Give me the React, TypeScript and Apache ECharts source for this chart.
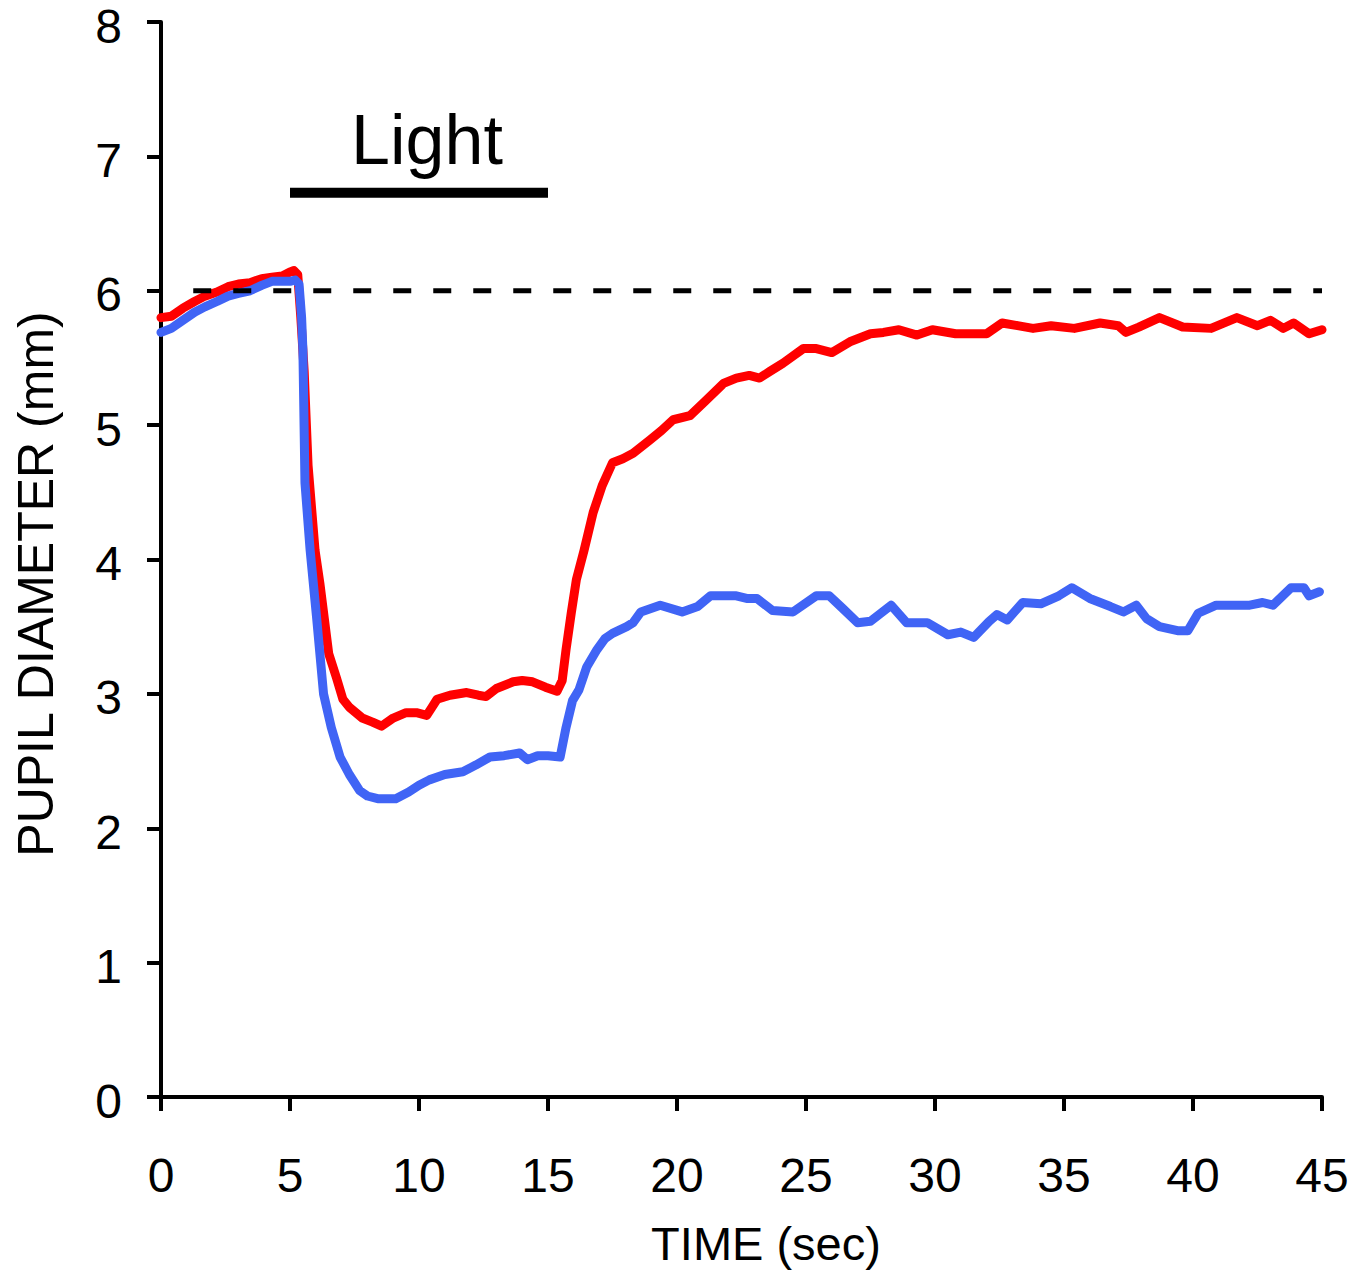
import React, { useEffect, useRef } from "react";
import * as echarts from "echarts";

// Red trace (time s, pupil diameter mm)
const redTime = [0, 0.4, 0.85, 1.3, 1.7, 2.17, 2.6, 3.0, 3.45, 3.9, 4.3, 4.7, 5.0, 5.15, 5.3, 5.42, 5.55, 5.7, 5.97, 6.16, 6.5, 6.8, 7.05, 7.3, 7.8, 8.2, 8.55, 9.0, 9.5, 9.9, 10.3, 10.5, 10.7, 11.2, 11.85, 12.3, 12.6, 13.0, 13.65, 14.0, 14.4, 14.9, 15.35, 15.55, 15.7, 15.9, 16.1, 16.4, 16.75, 17.1, 17.5, 17.9, 18.3, 18.95, 19.4, 19.85, 20.5, 21.1, 21.8, 22.3, 22.8, 23.2, 23.6, 24.1, 24.9, 25.4, 26.0, 26.7, 27.5, 28.0, 28.6, 29.3, 29.9, 30.8, 32.0, 32.6, 33.2, 33.8, 34.5, 35.4, 36.4, 37.1, 37.4, 37.9, 38.7, 39.6, 40.7, 41.7, 42.5, 43.0, 43.5, 43.9, 44.5, 45.0];
const redValues = [5.8, 5.81, 5.87, 5.92, 5.96, 5.99, 6.03, 6.05, 6.06, 6.09, 6.1, 6.11, 6.14, 6.15, 6.12, 5.8, 5.4, 4.7, 4.07, 3.82, 3.3, 3.12, 2.96, 2.9, 2.82, 2.79, 2.76, 2.82, 2.86, 2.86, 2.84, 2.9, 2.96, 2.99, 3.01, 2.99, 2.98, 3.04, 3.09, 3.1, 3.09, 3.05, 3.02, 3.1, 3.33, 3.6, 3.85, 4.07, 4.35, 4.55, 4.72, 4.75, 4.79, 4.89, 4.96, 5.04, 5.07, 5.18, 5.31, 5.35, 5.37, 5.35, 5.4, 5.46, 5.57, 5.57, 5.54, 5.62, 5.68, 5.69, 5.71, 5.67, 5.71, 5.68, 5.68, 5.76, 5.74, 5.72, 5.74, 5.72, 5.76, 5.74, 5.69, 5.73, 5.8, 5.73, 5.72, 5.8, 5.74, 5.78, 5.72, 5.76, 5.68, 5.71];

// Blue trace (time s, pupil diameter mm)
const blueTime = [0, 0.4, 0.85, 1.3, 1.7, 2.17, 2.6, 3.0, 3.45, 3.9, 4.3, 4.7, 5.0, 5.2, 5.35, 5.45, 5.5, 5.58, 5.78, 6.03, 6.3, 6.6, 6.94, 7.3, 7.7, 8.0, 8.4, 9.1, 9.6, 10.0, 10.4, 11.0, 11.7, 12.2, 12.75, 13.3, 13.9, 14.2, 14.6, 15.0, 15.47, 15.7, 15.95, 16.2, 16.5, 16.9, 17.2, 17.5, 18.05, 18.3, 18.6, 19.35, 20.2, 20.8, 21.3, 22.3, 22.7, 23.1, 23.7, 24.5, 25.4, 25.9, 26.4, 27.0, 27.5, 28.3, 28.9, 29.7, 30.5, 31.0, 31.5, 32.1, 32.4, 32.8, 33.4, 34.1, 34.8, 35.3, 36.0, 36.8, 37.3, 37.8, 38.2, 38.7, 39.4, 39.8, 40.2, 40.9, 41.5, 42.2, 42.7, 43.1, 43.8, 44.3, 44.5, 44.9];
const blueValues = [5.69, 5.72, 5.78, 5.84, 5.88, 5.92, 5.96, 5.98, 6.0, 6.04, 6.07, 6.07, 6.07, 6.08, 6.05, 5.8, 5.56, 4.57, 4.07, 3.57, 3.0, 2.75, 2.53, 2.4, 2.28, 2.24, 2.22, 2.22, 2.27, 2.32, 2.36, 2.4, 2.42, 2.47, 2.53, 2.54, 2.56, 2.51, 2.54, 2.54, 2.53, 2.75, 2.95, 3.03, 3.2, 3.33, 3.41, 3.45, 3.5, 3.53, 3.61, 3.66, 3.61, 3.65, 3.73, 3.73, 3.71, 3.71, 3.62, 3.61, 3.73, 3.73, 3.64, 3.53, 3.54, 3.66, 3.53, 3.53, 3.44, 3.46, 3.42, 3.54, 3.59, 3.55, 3.68, 3.67, 3.73, 3.79, 3.71, 3.65, 3.61, 3.66, 3.56, 3.5, 3.47, 3.47, 3.6, 3.66, 3.66, 3.66, 3.68, 3.66, 3.79, 3.79, 3.73, 3.76];

// Reference (baseline) line and light stimulus
const baselineLevel = 6;
const baselineStart = 1.25;
const baselineEnd = 45;
const lightStart = 5;
const lightEnd = 15;
const lightBarLevel = 6.73;
const lightLabelPos = [10.31, 7.12];
const lightLabel = "Light";

const xTicks = { min: 0, max: 45, interval: 5 };
const yTicks = { min: 0, max: 8, interval: 1 };
const yTickLabels = ["0", "1", "2", "3", "4", "5", "6", "7", "8"];
const xName = "TIME (sec)";
const yName = "PUPIL DIAMETER (mm)";

const FONT = "'Liberation Sans', Arial, Helvetica, sans-serif";
const RED = "#FF0000";
const BLUE = "#4064F5";

function zip(a: number[], b: number[]) {
  return a.map((t, i) => [t, b[i]]);
}

function textEl(text: string, x: number, y: number, fontSize: number, align: string, extra: any = {}) {
  return {
    type: "text",
    x,
    y,
    z: 10,
    ...extra,
    style: {
      text,
      fontSize,
      fontFamily: FONT,
      fill: "#000",
      textAlign: align,
      textVerticalAlign: "middle",
      align,
      verticalAlign: "middle",
    },
  };
}

export default function App() {
  const ref = useRef<HTMLDivElement>(null);
  useEffect(() => {
    if (!ref.current) return;
    const chart = echarts.init(ref.current, undefined, { renderer: "svg" });
    const axisCommon = {
      axisLine: { show: true, lineStyle: { color: "#000", width: 4 } },
      axisTick: { show: true, inside: false, length: 14, lineStyle: { color: "#000", width: 4 } },
      splitLine: { show: false },
    };
    chart.setOption({
      animation: false,
      backgroundColor: "#fff",
      grid: { left: 161, right: 46, top: 22, bottom: 176, containLabel: false },
      xAxis: {
        type: "value",
        min: xTicks.min,
        max: xTicks.max,
        interval: xTicks.interval,
        ...axisCommon,
        axisLabel: { fontSize: 48, fontFamily: FONT, color: "#000", margin: 54 },
      },
      yAxis: {
        type: "value",
        min: yTicks.min,
        max: yTicks.max,
        interval: yTicks.interval,
        ...axisCommon,
        axisLabel: { show: false },
      },
      series: [
        {
          type: "line",
          data: zip(redTime, redValues),
          showSymbol: false,
          lineStyle: { color: RED, width: 9, join: "round", cap: "round" },
          itemStyle: { color: RED },
          z: 2,
        },
        {
          type: "line",
          data: zip(blueTime, blueValues),
          showSymbol: false,
          lineStyle: { color: BLUE, width: 9, join: "round", cap: "round" },
          itemStyle: { color: BLUE },
          z: 3,
        },
        {
          type: "line",
          data: [
            [baselineStart, baselineLevel],
            [baselineEnd, baselineLevel],
          ],
          showSymbol: false,
          lineStyle: { color: "#000", width: 5, type: [18, 22] },
          z: 4,
        },
        {
          type: "line",
          data: [
            [lightStart, lightBarLevel],
            [lightEnd, lightBarLevel],
          ],
          showSymbol: false,
          lineStyle: { color: "#000", width: 10, cap: "butt" },
          z: 4,
        },
      ],
    });
    const p = chart.convertToPixel({ gridIndex: 0 }, lightLabelPos) as number[];
    const yLabelEls = yTickLabels.map((lab) => {
      const py = chart.convertToPixel({ yAxisIndex: 0 }, Number(lab)) as number;
      return textEl(lab, 122, py + 4, 48, "right");
    });
    chart.setOption({
      graphic: [
        textEl(xName, 766, 1243, 47, "center"),
        textEl(yName, 36, 584, 50, "center", { rotation: Math.PI / 2 }),
        textEl(lightLabel, p[0], p[1], 70, "center"),
        ...yLabelEls,
      ],
    });
    return () => chart.dispose();
  }, []);
  return (
    <div
      ref={ref}
      style={{ position: "fixed", left: 0, top: 0, width: 1368, height: 1273, background: "#fff" }}
    />
  );
}
